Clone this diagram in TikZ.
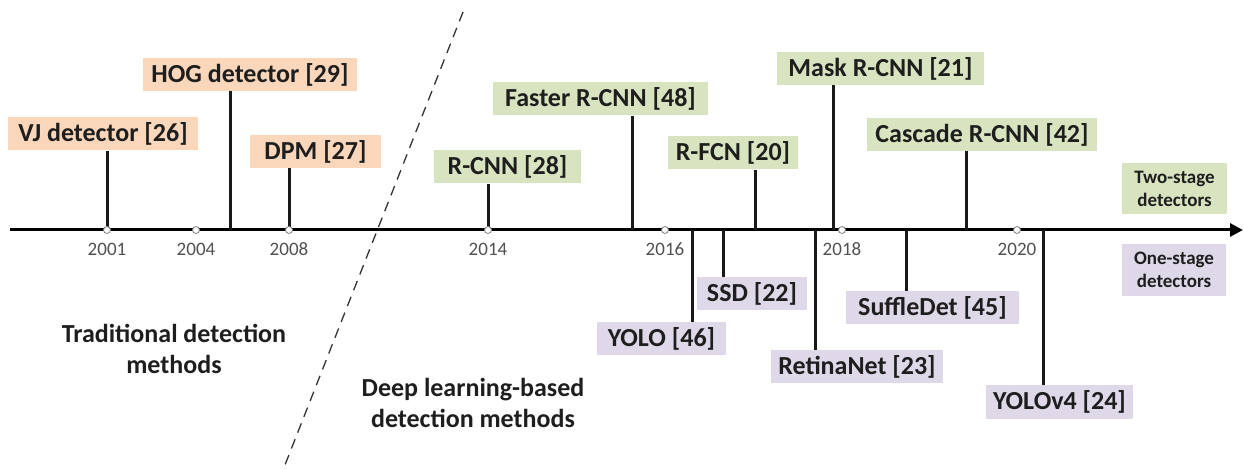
\documentclass[tikz,border=0pt]{standalone}
\usepackage{fontspec}
\setmainfont{Carlito}
\usetikzlibrary{arrows.meta,calc}
\definecolor{tradorange}{RGB}{250,214,186}
\definecolor{twogreen}{RGB}{216,228,192}
\definecolor{onepurple}{RGB}{222,216,232}
\definecolor{labeltext}{RGB}{30,30,30}
\definecolor{yeargray}{RGB}{80,80,80}

\begin{document}
\begin{tikzpicture}[x=1pt,y=-1pt,
  box/.style={fill=#1, text=labeltext, font=\fontsize{26}{30}\selectfont\bfseries,
    minimum height=33pt, inner sep=0pt},
  tick/.style={line width=3pt, black!90},
  yearmark/.style={circle, draw=gray, fill=white, line width=0.8pt,
    inner sep=0pt, minimum size=7pt}]
\useasboundingbox (0,0) rectangle (1243,470);

% time axis
\coordinate (axis-start) at (10,230);
\coordinate (axis-end) at (1243,230);
\draw[line width=3pt, -{Triangle[length=13pt,width=13pt]}] (axis-start) -- (axis-end);

% dashed border between the two eras
\coordinate (era-top) at (463,12);
\coordinate (era-bot) at (283,470);
\draw[dash pattern=on 10pt off 7pt, line width=1.3pt, black!80] (era-top) -- (era-bot);

% detectors above the axis
\foreach \name/\tx/\bx/\by/\w/\col/\txt in {
    vj/107/103/134/190/tradorange/VJ detector [26],
    hog/230/250/74.5/214/tradorange/HOG detector [29],
    dpm/289/315.5/151.5/131/tradorange/DPM [27],
    rcnn/488/507.5/167/147/twogreen/R-CNN [28],
    faster/632/600.5/99/215/twogreen/Faster R-CNN [48],
    rfcn/755/733/153/130/twogreen/R-FCN [20],
    mask/833/880.5/68.5/207/twogreen/Mask R-CNN [21],
    cascade/966/982/134.5/230/twogreen/Cascade R-CNN [42]
  } {
  \node[box=\col, minimum width=\w pt] (\name) at (\bx,\by) {\txt};
  \coordinate (\name-t) at (\tx,230);
  \draw[tick] (\name-t) -- (\name-t |- \name.south);
}

% detectors below the axis
\foreach \name/\tx/\bx/\by/\w/\txt in {
    yolo/692/661.5/338.5/129/YOLO [46],
    ssd/723/752/294/110/SSD [22],
    retina/815/857/366.5/172/RetinaNet [23],
    shuffle/906/932.5/308/173/SuffleDet [45],
    yolovf/1043/1059.5/402/147/YOLOv4 [24]
  } {
  \node[box=onepurple, minimum width=\w pt] (\name) at (\bx,\by) {\txt};
  \coordinate (\name-t) at (\tx,230);
  \draw[tick] (\name-t) -- (\name-t |- \name.north);
}

% years
\foreach \yr/\x in {2001/107,2004/196,2008/289,2014/488,2016/665,2018/842,2020/1017} {
  \node[yearmark] (y\yr) at (\x,230) {};
  \node[font=\fontsize{19}{22}\selectfont, text=yeargray] (lab\yr) at (\x,249) {\yr};
}

% legend
\node[box=twogreen, font=\fontsize{19}{23}\selectfont\bfseries, align=center,
  minimum width=105pt, minimum height=51pt] (twostage) at (1174.5,188.5) {Two-stage\\detectors};
\node[box=onepurple, font=\fontsize{19}{23}\selectfont\bfseries, align=center,
  minimum width=104pt, minimum height=52pt] (onestage) at (1174,270) {One-stage\\detectors};

% eras
\node[font=\fontsize{26}{31}\selectfont\bfseries, text=labeltext, align=center]
  (trad) at (174,349) {Traditional detection\\methods};
\node[font=\fontsize{26}{31}\selectfont\bfseries, text=labeltext, align=center]
  (deep) at (473,403) {Deep learning-based\\detection methods};
\end{tikzpicture}
\end{document}
